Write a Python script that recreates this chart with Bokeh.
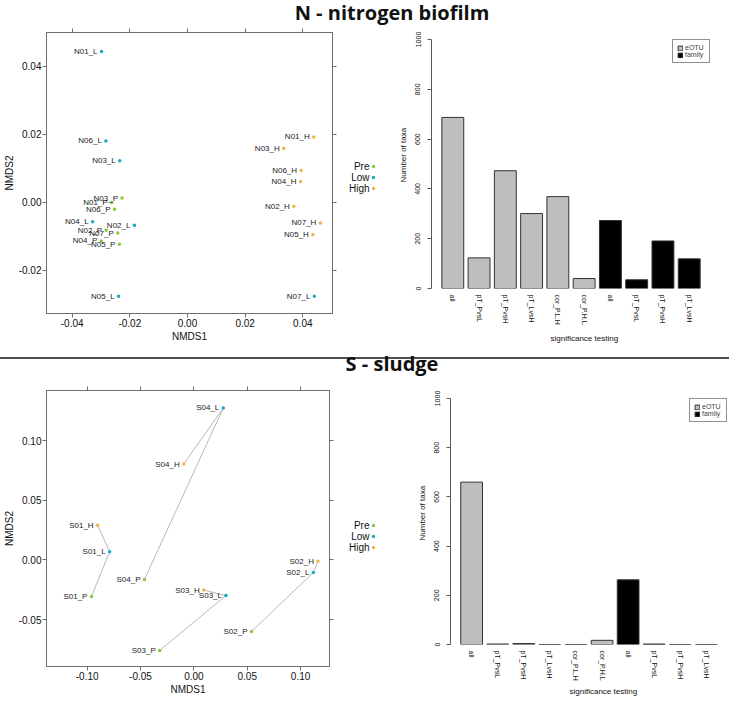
import math
from bokeh.plotting import figure
from bokeh.models import (ColumnDataSource, Range1d, LinearAxis, FixedTicker, PrintfTickFormatter,
                          Div, Title)
from bokeh.layouts import column, row
from bokeh.core.properties import value
from bokeh.embed import file_html
from bokeh.resources import INLINE

# ---------------- data ----------------
groups = ["Pre", "Low", "High"]
group_suffix = ["P", "L", "H"]
group_colors = ["#8CC63E", "#19A9C2", "#F0B545"]

n_ids = ["N01", "N02", "N03", "N04", "N05", "N06", "N07"]
n_pre_x = [-0.0263, -0.0282, -0.0227, -0.0299, -0.0236, -0.0253, -0.0242]
n_pre_y = [0.0000, -0.0082, 0.0013, -0.0113, -0.0123, -0.0020, -0.0090]
n_low_x = [-0.0298, -0.0184, -0.0235, -0.0329, -0.0239, -0.0283, 0.0440]
n_low_y = [0.0444, -0.0067, 0.0123, -0.0057, -0.0276, 0.0181, -0.0276]
n_high_x = [0.0438, 0.0369, 0.0334, 0.0392, 0.0435, 0.0394, 0.0461]
n_high_y = [0.0193, -0.0011, 0.0159, 0.0062, -0.0095, 0.0094, -0.0060]

s_ids = ["S01", "S02", "S03", "S04"]
s_pre_x = [-0.0960, 0.0540, -0.0320, -0.0463]
s_pre_y = [-0.0307, -0.0600, -0.0758, -0.0163]
s_low_x = [-0.0789, 0.1120, 0.0301, 0.0276]
s_low_y = [0.0069, -0.0105, -0.0299, 0.1274]
s_high_x = [-0.0902, 0.1163, 0.0092, -0.0095]
s_high_y = [0.0290, -0.0012, -0.0252, 0.0804]

n_xticks = [-0.04, -0.02, 0.0, 0.02, 0.04]
n_yticks = [-0.02, 0.0, 0.02, 0.04]
s_xticks = [-0.10, -0.05, 0.0, 0.05, 0.10]
s_yticks = [-0.05, 0.0, 0.05, 0.10]

bar_labels = ["all", "pT_PvsL", "pT_PvsH", "pT_LvsH", "cor_P.L.H", "cor_P.H.L",
              "all", "pT_PvsL", "pT_PvsH", "pT_LvsH"]
bar_level = ["eOTU"] * 6 + ["family"] * 4
levels = ["eOTU", "family"]
level_colors = ["#BEBEBE", "#000000"]
n_counts = [687, 123, 473, 301, 369, 40, 273, 35, 191, 119]
s_counts = [660, 2, 4, 0, 0, 17, 263, 2, 0, 0]
count_ticks = [0, 200, 400, 600, 800, 1000]

FONT = "Liberation Sans"
FRAME = "#6e6e6e"


def style_axis(ax, ticks, labels=True, fmt="%.2f"):
    ax.ticker = FixedTicker(ticks=ticks)
    ax.formatter = PrintfTickFormatter(format=fmt)
    ax.major_tick_in = 0
    ax.major_tick_out = 4
    ax.minor_tick_line_color = None
    ax.axis_line_color = FRAME
    ax.major_tick_line_color = FRAME
    ax.major_label_text_font = FONT
    ax.major_label_text_color = "#111111"
    if labels:
        ax.major_label_text_font_size = "10px"
        ax.major_label_standoff = 1
    else:
        ax.major_label_overrides = {t: "" for t in ticks}
        ax.major_label_text_font_size = "1px"
        ax.major_label_standoff = 0
    ax.axis_label_text_font = FONT
    ax.axis_label_text_font_size = "10px"
    ax.axis_label_text_font_style = "normal"
    ax.axis_label_text_color = "#111111"
    ax.axis_label_standoff = 1


def base_fig(w, h, xr, yr, bl, br, bt, bb, **kw):
    p = figure(width=w, height=h, x_range=Range1d(*xr), y_range=Range1d(*yr),
               output_backend="svg", toolbar_location=None,
               min_border_left=bl, min_border_right=br, min_border_top=bt, min_border_bottom=bb,
               background_fill_color="white", border_fill_color="white", **kw)
    p.frame_align = False
    p.grid.visible = False
    return p


def nmds_panel(ids, pts, xr, yr, xticks, yticks, w, h, bl, br, bt, bb, connect):
    p = base_fig(w, h, xr, yr, bl, br, bt, bb)
    p.outline_line_color = FRAME
    p.outline_line_width = 1
    if connect:
        xs = [[pts["Pre"][0][i], pts["Low"][0][i], pts["High"][0][i]] for i in range(len(ids))]
        ys = [[pts["Pre"][1][i], pts["Low"][1][i], pts["High"][1][i]] for i in range(len(ids))]
        p.multi_line(xs, ys, line_color="#b8b8b8", line_width=1)
    for g, suf, col in zip(groups, group_suffix, group_colors):
        gx, gy = pts[g]
        src = ColumnDataSource(dict(x=gx, y=gy, lab=[f"{i}_{suf}" for i in ids]))
        p.scatter("x", "y", source=src, size=3.5, fill_color=col, line_color=None)
        p.text("x", "y", text="lab", source=src, text_align="right", text_baseline="middle",
               x_offset=-4, text_font_size="8px", text_font=value(FONT), text_color="#1a1a1a")
    style_axis(p.xaxis[0], xticks)
    style_axis(p.yaxis[0], yticks)
    p.xaxis[0].axis_label = "NMDS1"
    p.yaxis[0].axis_label = "NMDS2"
    top = LinearAxis()
    style_axis(top, xticks, labels=False)
    p.add_layout(top, "above")
    right = LinearAxis()
    style_axis(right, yticks, labels=False)
    p.add_layout(right, "right")
    return p


def group_key(h, bt, bb, ys):
    fh = h - bt - bb
    p = base_fig(37, h, (0, 37), (0, fh), 0, 0, bt, bb, x_axis_type=None, y_axis_type=None)
    p.outline_line_color = None
    p.text(x=[29] * 3, y=ys, text=groups, text_align="right", text_baseline="middle",
           text_font_size="10px", text_font=value(FONT), text_color="#111111")
    p.scatter(x=[33] * 3, y=ys, size=3.5, fill_color=group_colors, line_color=None)
    return p


def side_title(text, offset, standoff):
    return Title(text=text, align="left", offset=offset, standoff=standoff,
                 text_font=FONT, text_font_size="8px", text_font_style="normal",
                 text_color="#111111")


def bar_panel(counts, w, h, bl, br, bt, bb, lab_standoff, xlab_standoff, ylab_offset):
    centers = [round(0.7 + 1.2 * i, 2) for i in range(len(counts))]
    p = base_fig(w, h, (-0.272, 12.472), (0, 1000), bl, br, bt, bb)
    p.outline_line_color = None
    for lvl, col in zip(levels, level_colors):
        idx = [i for i, l in enumerate(bar_level) if l == lvl]
        src = ColumnDataSource(dict(x=[centers[i] for i in idx], top=[counts[i] for i in idx]))
        p.vbar(x="x", top="top", bottom=0, width=1.0, source=src, fill_color=col,
               line_color="#333333", line_width=1, legend_label=lvl)
    xa = p.xaxis[0]
    xa.ticker = FixedTicker(ticks=centers)
    xa.major_label_overrides = {c: l for c, l in zip(centers, bar_labels)}
    xa.major_label_orientation = "vertical"
    xa.axis_line_color = None
    xa.major_tick_line_color = None
    xa.minor_tick_line_color = None
    xa.major_tick_out = 0
    xa.major_tick_in = 0
    xa.major_label_standoff = lab_standoff
    xa.major_label_text_font = FONT
    xa.major_label_text_font_size = "7px"
    xa.major_label_text_color = "#111111"
    p.add_layout(side_title("significance testing", 119, xlab_standoff), "below")
    ya = p.yaxis[0]
    ya.ticker = FixedTicker(ticks=count_ticks)
    ya.major_label_orientation = "parallel"
    ya.axis_line_color = "#5a5a5a"
    ya.major_tick_line_color = "#5a5a5a"
    ya.minor_tick_line_color = None
    ya.major_tick_out = 4
    ya.major_tick_in = 0
    ya.major_label_standoff = 7
    ya.major_label_text_font = FONT
    ya.major_label_text_font_size = "7px"
    ya.major_label_text_color = "#111111"
    p.add_layout(side_title("Number of taxa", ylab_offset, 9), "left")
    lg = p.legend[0]
    lg.location = "top_right"
    lg.margin = 0
    lg.padding = 4
    lg.spacing = 0
    lg.glyph_width = 6
    lg.glyph_height = 6
    lg.label_height = 7
    lg.label_standoff = 2
    lg.label_text_font = FONT
    lg.label_text_font_size = "7px"
    lg.border_line_color = "#222222"
    lg.border_line_width = 1
    lg.background_fill_color = "white"
    lg.background_fill_alpha = 1
    return p


def title_div(text, h, margin_top):
    html = ("<div style='width:729px;box-sizing:border-box;padding-left:55px;text-align:center;"
            "font-family:\"Open Sans\";font-weight:bold;font-size:20px;line-height:26px;"
            f"margin-top:{margin_top}px;color:#111111;white-space:nowrap'>{text}</div>")
    return Div(text=html, width=729, height=h, margin=0)


n_pts = {"Pre": (n_pre_x, n_pre_y), "Low": (n_low_x, n_low_y), "High": (n_high_x, n_high_y)}
s_pts = {"Pre": (s_pre_x, s_pre_y), "Low": (s_low_x, s_low_y), "High": (s_high_x, s_high_y)}

# top row: height 321 (page y 34..355)
n_scatter = nmds_panel(n_ids, n_pts, (-0.0489, 0.0503), (-0.03265, 0.0500), n_xticks, n_yticks,
                       340, 321, 42, 8, 6, 34, connect=False)
n_key = group_key(321, 6, 34, [147, 136, 125])
n_bars = bar_panel(n_counts, 352, 321, 54, 19, 13, 59, 6, 9, 106)

# bottom row: height 315 (page y 390..705)
s_scatter = nmds_panel(s_ids, s_pts, (-0.1381, 0.1271), (-0.0893, 0.1420), s_xticks, s_yticks,
                       340, 315, 41, 11, 8, 28, connect=True)
s_key = group_key(315, 8, 28, [144, 133, 122])
s_bars = bar_panel(s_counts, 352, 315, 73, 2, 16, 51, 6, 3, 104)

title1 = title_div("N - nitrogen biofilm", 26, 0)
title2 = title_div("S - sludge", 33, 2)
divider = Div(text="<div style='width:729px;height:2px;background:#505050'></div>",
              width=729, height=2, margin=0)

layout = column(title1, row(n_scatter, n_key, n_bars), divider, title2, row(s_scatter, s_key, s_bars))

open("out.html", "w").write(file_html(layout, INLINE))
